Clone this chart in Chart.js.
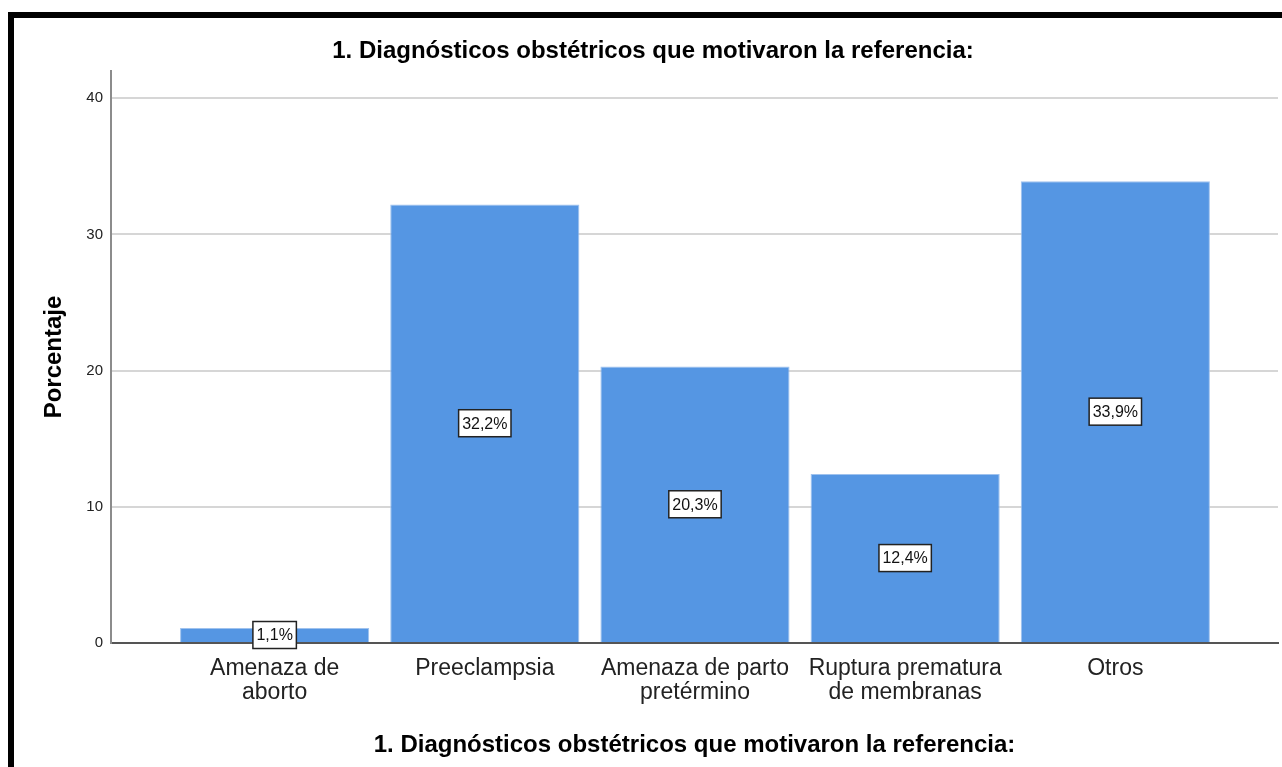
<!DOCTYPE html>
<html>
<head>
<meta charset="utf-8">
<script src="https://cdn.jsdelivr.net/npm/chart.js@4.4.1/dist/chart.umd.min.js"></script>
<style>
  html, body { margin: 0; padding: 0; background: #fff; width: 1282px; height: 767px; overflow: hidden; }
  #frame { position: absolute; left: 8px; top: 12px; width: 1274px; height: 755px; border-top: 6px solid #000; border-left: 6px solid #000; box-sizing: border-box; }
  #wrap { position: absolute; left: 28px; top: 18px; width: 1254px; height: 749px; }
</style>
</head>
<body>
<div id="frame"></div>
<div id="wrap"><canvas id="c" width="1254" height="749"></canvas></div>
<script>
const chartTitle = '1. Diagnósticos obstétricos que motivaron la referencia:';
const categories = [
  ['Amenaza de', 'aborto'],
  ['Preeclampsia'],
  ['Amenaza de parto', 'pretérmino'],
  ['Ruptura prematura', 'de membranas'],
  ['Otros']
];
const percentages = [1.1, 32.2, 20.3, 12.4, 33.9];
const yTicks = [0, 10, 20, 30, 40];
const yAxisTitle = 'Porcentaje';
const xAxisTitle = '1. Diagnósticos obstétricos que motivaron la referencia:';

const FONT = "'Liberation Sans', Arial, sans-serif";

const labelPlugin = {
  id: 'barLabels',
  afterDatasetsDraw(chart) {
    const ctx = chart.ctx;
    const meta = chart.getDatasetMeta(0);
    ctx.save();
    ctx.font = '16px ' + FONT;
    ctx.textAlign = 'center';
    ctx.textBaseline = 'middle';
    meta.data.forEach((el, i) => {
      const txt = percentages[i].toFixed(1).replace('.', ',') + '%';
      const cx = el.x;
      const cy = (el.y + el.base) / 2;
      const w = ctx.measureText(txt).width + 7;
      const h = 27;
      ctx.fillStyle = '#ffffff';
      ctx.fillRect(cx - w / 2, cy - h / 2, w, h);
      ctx.lineWidth = 1.5;
      ctx.strokeStyle = '#222222';
      ctx.strokeRect(cx - w / 2, cy - h / 2, w, h);
      ctx.fillStyle = '#111111';
      ctx.fillText(txt, cx, cy + 1);
    });
    ctx.restore();
  }
};

new Chart(document.getElementById('c'), {
  type: 'bar',
  data: {
    datasets: [{
      data: percentages.map((v, i) => ({ x: i, y: v })),
      backgroundColor: '#5596e3',
      borderColor: '#9fc2ee',
      borderWidth: 1,
      categoryPercentage: 0.9,
      barPercentage: 1.0
    }]
  },
  options: {
    responsive: false,
    animation: false,
    layout: { padding: { left: 0, right: 4, top: 0, bottom: 0 } },
    plugins: {
      legend: { display: false },
      tooltip: { enabled: false },
      title: {
        display: true,
        text: chartTitle,
        color: '#000',
        font: { family: FONT, size: 24, weight: 'bold', lineHeight: 1.2 },
        padding: { top: 19, bottom: 5.2 }
      }
    },
    scales: {
      x: {
        type: 'linear',
        offset: false,
        min: -0.7786,
        max: 4.774,
        afterBuildTicks: s => { s.ticks = categories.map((_, i) => ({ value: i })); },
        afterFit: s => { s.height = 124; },
        grid: { display: false, drawTicks: false, offset: false },
        border: { display: true, color: '#555555', width: 2 },
        ticks: {
          autoSkip: false,
          maxRotation: 0,
          padding: 13,
          color: '#222',
          font: { family: FONT, size: 23, lineHeight: 1.07 },
          callback: v => categories[v]
        },
        title: {
          display: true,
          text: xAxisTitle,
          color: '#000',
          font: { family: FONT, size: 24, weight: 'bold', lineHeight: 1.2 },
          padding: { top: 0, bottom: 7.6 }
        }
      },
      y: {
        min: 0,
        max: 42,
        afterBuildTicks: s => { s.ticks = yTicks.map(v => ({ value: v })); },
        afterFit: s => { s.width = 83; },
        grid: {
          drawTicks: false,
          lineWidth: 2,
          color: c => (c.tick && c.tick.value === 0) ? 'rgba(0,0,0,0)' : '#d6d6d6'
        },
        border: { display: true, color: '#8c8c8c', width: 2 },
        ticks: {
          padding: 8,
          color: '#222',
          font: { family: FONT, size: 15 }
        },
        title: {
          display: true,
          text: yAxisTitle,
          color: '#000',
          font: { family: FONT, size: 24, weight: 'bold', lineHeight: 1.2 },
          padding: { top: 11.5, bottom: 0 }
        }
      }
    }
  },
  plugins: [labelPlugin]
});
</script>
</body>
</html>
